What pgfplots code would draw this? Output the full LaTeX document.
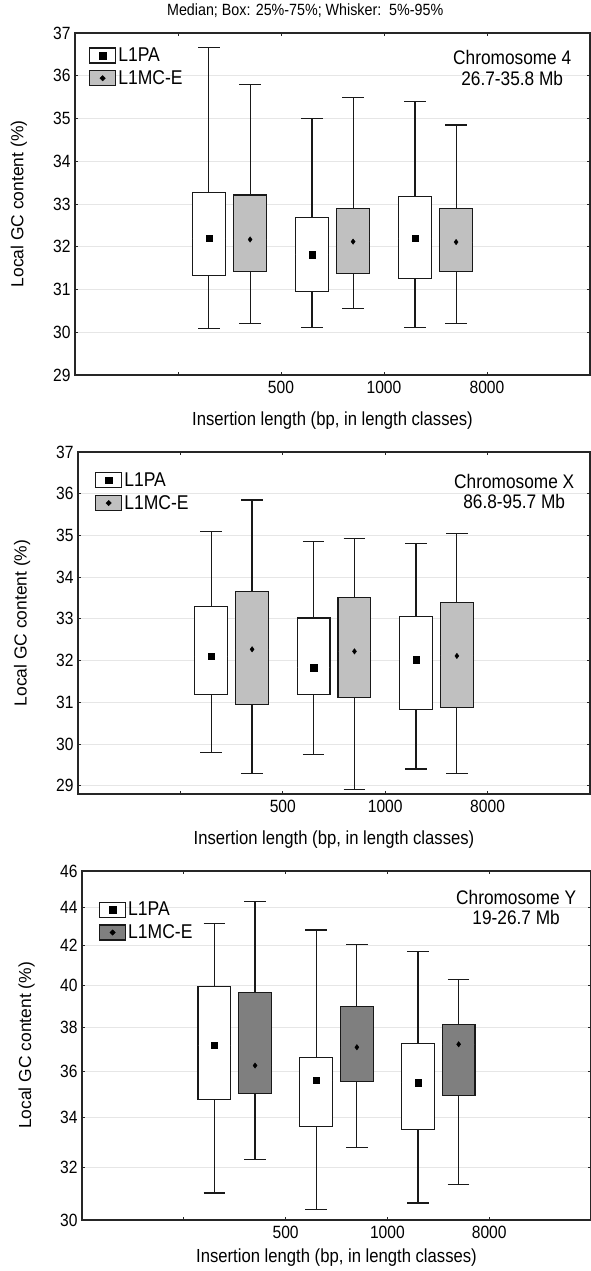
\documentclass[border=0pt]{standalone}
\usepackage{fontspec}
\setmainfont[FakeStretch=0.88]{Liberation Sans}
\newfontfamily\plainsans{Liberation Sans}
\usepackage{pgfplots}
\pgfplotsset{compat=1.18}
\usepgfplotslibrary{statistics}

\definecolor{lightbox}{HTML}{C0C0C0}
\definecolor{darkbox}{HTML}{7F7F7F}
\definecolor{gridgray}{HTML}{E6E6E6}

\pgfplotsset{
  panel/.style={
    scale only axis,
    xmin=0, xmax=5,
    xtick={1,2,3,4}, xticklabels={,500,1000,8000},
    font=\fontsize{17.8}{20}\selectfont,
    ymajorgrids, grid style={gridgray, line width=0.7pt},
    axis line style={line width=1.3pt, black!85},
    tick style={black!85, line width=0.9pt}, major tick length=3bp,
    /pgf/number format/assume math mode=true,
    boxplot/draw direction=y,
    boxplot/every median/.style={draw=none},
    xlabel={Insertion length (bp, in length classes)},
    ylabel={Local GC content (\%)},
    xlabel style={at={(axis description cs:0.5,-0.132)}, anchor=center, font=\fontsize{19}{22}\selectfont},
    ylabel style={at={(axis description cs:-0.109,0.5)}, anchor=center, font=\plainsans\fontsize{17.5}{20}\selectfont},
    xticklabel style={yshift=-3bp},
    yticklabel style={xshift=-1bp},
    legend cell align=left,
    legend style={draw=none, fill=none, inner sep=0pt, row sep=3.5bp,
      font=\fontsize{20}{22}\selectfont,
      /tikz/every even column/.append style={column sep=6bp}},
  },
  wbox/.style={draw=black!90, fill=white, line width=1.2pt},
  gbox/.style={draw=black!90, fill=lightbox, line width=1.2pt},
  dbox/.style={draw=black!90, fill=darkbox, line width=1.2pt},
  medsq/.style={only marks, mark=square*, mark size=3.2bp, black},
  meddi/.style={only marks, mark=diamond*, mark size=2.7bp, black},
}

\newcommand{\legA}{\addlegendimage{legend image code/.code={\draw[black!90,line width=1.2pt,fill=white] (0bp,-7.5bp) rectangle (26bp,7.5bp); \fill[black] (9.8bp,-3.3bp) rectangle (16.2bp,3.3bp);}}\addlegendentry{L1PA}}
\newcommand{\legB}[1]{\addlegendimage{legend image code/.code={\draw[black!90,line width=1.2pt,fill=#1] (0bp,-7.5bp) rectangle (26bp,7.5bp); \fill[black] (13bp,2.7bp) -- (15.7bp,0bp) -- (13bp,-2.7bp) -- (10.3bp,0bp) -- cycle;}}\addlegendentry{L1MC-E}}

\begin{document}
\begin{tikzpicture}
\useasboundingbox (0bp,0bp) rectangle (591bp,-1271bp);

% ---------------- Panel 1: Chromosome 4 ----------------
\begin{axis}[panel, at={(75bp,-33bp)}, anchor=north west,
  width=515bp, height=342bp,
  ymin=29, ymax=37, ytick={29,30,...,37},
  title={Median; Box: 25\%-75\%; Whisker:\ \ 5\%-95\%},
  title style={at={(axis description cs:0.447,1)}, anchor=center, yshift=16bp, font=\fontsize{16.3}{18}\selectfont},
  legend style={at={(axis description cs:0.027,0.963)}, anchor=north west},
]
\legA
\legB{lightbox}
\addplot[wbox, boxplot prepared={draw position=1.3, box extend=0.32, whisker extend=0.21,
  lower whisker=30.08, lower quartile=31.33, median=32.20, upper quartile=33.27, upper whisker=36.67}] coordinates {};
\addplot[gbox, boxplot prepared={draw position=1.7, box extend=0.32, whisker extend=0.21,
  lower whisker=30.20, lower quartile=31.43, median=32.17, upper quartile=33.21, upper whisker=35.79}] coordinates {};
\addplot[wbox, boxplot prepared={draw position=2.3, box extend=0.32, whisker extend=0.21,
  lower whisker=30.12, lower quartile=30.96, median=31.81, upper quartile=32.68, upper whisker=35.00}] coordinates {};
\addplot[gbox, boxplot prepared={draw position=2.7, box extend=0.32, whisker extend=0.21,
  lower whisker=30.55, lower quartile=31.37, median=32.12, upper quartile=32.90, upper whisker=35.50}] coordinates {};
\addplot[wbox, boxplot prepared={draw position=3.3, box extend=0.32, whisker extend=0.21,
  lower whisker=30.12, lower quartile=31.25, median=32.20, upper quartile=33.18, upper whisker=35.40}] coordinates {};
\addplot[gbox, boxplot prepared={draw position=3.7, box extend=0.32, whisker extend=0.21,
  lower whisker=30.20, lower quartile=31.42, median=32.11, upper quartile=32.90, upper whisker=34.85}] coordinates {};
\addplot[medsq] coordinates {(1.3,32.20) (2.3,31.81) (3.3,32.20)};
\addplot[meddi] coordinates {(1.7,32.17) (2.7,32.12) (3.7,32.11)};
\node[align=center, font=\fontsize{19.7}{20.5}\selectfont] at (axis description cs:0.849,0.898) {Chromosome 4\\26.7-35.8 Mb};
\end{axis}

% ---------------- Panel 2: Chromosome X ----------------
\begin{axis}[panel, at={(78bp,-452bp)}, anchor=north west,
  width=512bp, height=342bp,
  ymin=28.8, ymax=37, ytick={29,30,...,37},
  legend style={at={(axis description cs:0.033,0.946)}, anchor=north west},
]
\legA
\legB{lightbox}
\addplot[wbox, boxplot prepared={draw position=1.3, box extend=0.32, whisker extend=0.21,
  lower whisker=29.80, lower quartile=31.19, median=32.10, upper quartile=33.30, upper whisker=35.10}] coordinates {};
\addplot[gbox, boxplot prepared={draw position=1.7, box extend=0.32, whisker extend=0.21,
  lower whisker=29.30, lower quartile=30.94, median=32.27, upper quartile=33.65, upper whisker=35.85}] coordinates {};
\addplot[wbox, boxplot prepared={draw position=2.3, box extend=0.32, whisker extend=0.21,
  lower whisker=29.75, lower quartile=31.18, median=31.83, upper quartile=33.02, upper whisker=34.86}] coordinates {};
\addplot[gbox, boxplot prepared={draw position=2.7, box extend=0.32, whisker extend=0.21,
  lower whisker=28.90, lower quartile=31.12, median=32.22, upper quartile=33.51, upper whisker=34.92}] coordinates {};
\addplot[wbox, boxplot prepared={draw position=3.3, box extend=0.32, whisker extend=0.21,
  lower whisker=29.40, lower quartile=30.82, median=32.02, upper quartile=33.06, upper whisker=34.81}] coordinates {};
\addplot[gbox, boxplot prepared={draw position=3.7, box extend=0.32, whisker extend=0.21,
  lower whisker=29.30, lower quartile=30.88, median=32.11, upper quartile=33.39, upper whisker=35.05}] coordinates {};
\addplot[medsq] coordinates {(1.3,32.10) (2.3,31.83) (3.3,32.02)};
\addplot[meddi] coordinates {(1.7,32.27) (2.7,32.22) (3.7,32.11)};
\node[align=center, font=\fontsize{19.7}{20.5}\selectfont] at (axis description cs:0.852,0.885) {Chromosome X\\86.8-95.7 Mb};
\end{axis}

% ---------------- Panel 3: Chromosome Y ----------------
\begin{axis}[panel, at={(82bp,-871bp)}, anchor=north west,
  width=509bp, height=349bp,
  ymode=log, ymin=30, ymax=46,
  ytick={30,32,34,36,38,40,42,44,46},
  yticklabels={30,32,34,36,38,40,42,44,46},
  xlabel style={at={(axis description cs:0.5,-0.107)}},
  legend style={at={(axis description cs:0.033,0.917)}, anchor=north west},
]
\legA
\legB{darkbox}
\addplot[wbox, boxplot prepared={draw position=1.3, box extend=0.32, whisker extend=0.21,
  lower whisker=31.01, lower quartile=34.78, median=37.15, upper quartile=39.92, upper whisker=43.13}] coordinates {};
\addplot[dbox, boxplot prepared={draw position=1.7, box extend=0.32, whisker extend=0.21,
  lower whisker=32.30, lower quartile=35.04, median=36.25, upper quartile=39.65, upper whisker=44.30}] coordinates {};
\addplot[wbox, boxplot prepared={draw position=2.3, box extend=0.32, whisker extend=0.21,
  lower whisker=30.38, lower quartile=33.65, median=35.61, upper quartile=36.60, upper whisker=42.79}] coordinates {};
\addplot[dbox, boxplot prepared={draw position=2.7, box extend=0.32, whisker extend=0.21,
  lower whisker=32.79, lower quartile=35.56, median=37.07, upper quartile=38.96, upper whisker=42.02}] coordinates {};
\addplot[wbox, boxplot prepared={draw position=3.3, box extend=0.32, whisker extend=0.21,
  lower whisker=30.63, lower quartile=33.53, median=35.50, upper quartile=37.23, upper whisker=41.68}] coordinates {};
\addplot[dbox, boxplot prepared={draw position=3.7, box extend=0.32, whisker extend=0.21,
  lower whisker=31.32, lower quartile=34.94, median=37.21, upper quartile=38.12, upper whisker=40.26}] coordinates {};
\addplot[medsq] coordinates {(1.3,37.15) (2.3,35.61) (3.3,35.50)};
\addplot[meddi] coordinates {(1.7,36.25) (2.7,37.07) (3.7,37.21)};
\node[align=center, font=\fontsize{19.7}{20.5}\selectfont] at (axis description cs:0.853,0.896) {Chromosome Y\\19-26.7 Mb};
\end{axis}
\end{tikzpicture}
\end{document}
